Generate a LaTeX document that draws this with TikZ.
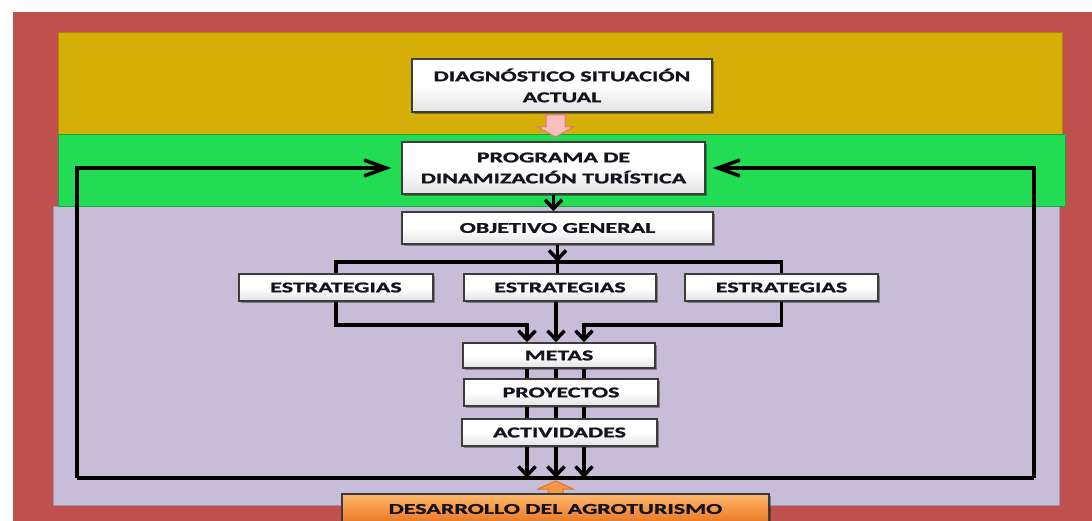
\documentclass[tikz,border=0pt]{standalone}
\usepackage{fontspec}
\setmainfont{Carlito}[FakeStretch=1.6, BoldFeatures={FakeBold=1.4}]
\usetikzlibrary{arrows.meta,shadows,calc}
\definecolor{redp}{RGB}{192,80,77}
\definecolor{goldp}{RGB}{213,174,7}
\definecolor{grnp}{RGB}{34,221,83}
\definecolor{lavp}{RGB}{199,189,216}
\definecolor{pinkp}{RGB}{248,190,190}
\definecolor{pinkd}{RGB}{222,120,120}
\definecolor{orgp}{RGB}{247,150,70}
\definecolor{orgl}{RGB}{251,185,110}
\definecolor{orgd}{RGB}{228,118,36}
\definecolor{boxline}{RGB}{60,60,60}
\definecolor{txt}{RGB}{20,20,30}
\begin{document}
\begin{tikzpicture}[x=1pt,y=-1pt,
  box/.style={draw=boxline, line width=1.5pt, top color=white, bottom color=gray!22,
    middle color=white, inner sep=0pt, align=center, text=txt,
    font=\bfseries\fontsize{15}{21}\selectfont,
    drop shadow={shadow xshift=2pt,shadow yshift=-2pt,opacity=0.35,fill=black}},
  obox/.style={box, top color=orgl, bottom color=orgd, middle color=orgp},
  conn/.style={line width=3.5pt, black},
  downarr/.style={conn, -{Straight Barb[length=9pt,width=17pt]}},
  looparr/.style={conn, -{Straight Barb[length=22pt,width=16pt]}},
  band/.style={line width=1pt}]
\useasboundingbox (0,0) rectangle (1092,521);
\fill[white] (0,0) rectangle (1092,521);
% panels
\fill[redp] (13,12) rectangle (1110,540);
\filldraw[band, fill=lavp, draw=lavp!80!black] (53,207) rectangle (1059,505);
\filldraw[band, fill=goldp, draw=goldp!80!black] (58,33) rectangle (1062,135);
\filldraw[band, fill=grnp, draw=grnp!75!black] (58,135) rectangle (1065,207);
% nodes
\node[box, minimum width=300pt, minimum height=53pt] (diag) at (562,85.5) {DIAGNÓSTICO SITUACIÓN\\ACTUAL};
\node[box, minimum width=303pt, minimum height=52pt] (prog) at (553.5,168) {PROGRAMA DE\\DINAMIZACIÓN TURÍSTICA};
\node[box, minimum width=311pt, minimum height=32pt] (obj) at (557.5,228) {OBJETIVO GENERAL};
\node[box, minimum width=194pt, minimum height=27pt] (e1) at (336,287.5) {ESTRATEGIAS};
\node[box, minimum width=192pt, minimum height=27pt] (e2) at (560,287.5) {ESTRATEGIAS};
\node[box, minimum width=193pt, minimum height=27pt] (e3) at (781.5,287.5) {ESTRATEGIAS};
\node[box, minimum width=192pt, minimum height=25pt] (metas) at (559,355.5) {METAS};
\node[box, minimum width=194pt, minimum height=27pt] (proy) at (561,392.5) {PROYECTOS};
\node[box, minimum width=195pt, minimum height=27pt] (act) at (559.5,432.5) {ACTIVIDADES};
% coordinates
\coordinate (bl) at (77,478);
\coordinate (br) at (1034,478);
\coordinate (c1) at (527,478);
\coordinate (c2) at (556,478);
\coordinate (c3) at (584,478);
\coordinate (sj) at (557.5,262);
\coordinate (j1) at (527,325);
\coordinate (j3) at (584,325);
% block arrows
\filldraw[fill=pinkp, draw=pinkd, line width=1pt] (546,115) -- (565,115) -- (565,127) -- (573,127) -- (555.5,137) -- (538,127) -- (546,127) -- cycle;
\filldraw[fill=orgp, draw=orgd, line width=1pt] (548,496) -- (548,489) -- (538,489) -- (555.5,481) -- (573,489) -- (563,489) -- (563,496);
\node[obox, minimum width=427pt, minimum height=30pt] (des) at (555.5,509) {DESARROLLO DEL AGROTURISMO};
% connectors
\draw[conn] (bl) -- (br);
\draw[looparr, shorten >=10pt] (bl) |- (prog.west);
\draw[looparr, shorten >=7pt] (br) |- (prog.east);
\draw[downarr] (prog.south) -- (prog.south |- obj.north);
\draw[downarr] (obj.south) -- (sj);
\draw[conn] (e1.north) |- (sj) -| (e3.north);
\draw[conn] (e2.north -| sj) -- (sj);
\draw[downarr] (e1.south) |- (j1) -- (j1 |- metas.north);
\draw[downarr] (e3.south) |- (j3) -- (j3 |- metas.north);
\draw[downarr] (e2.south -| c2) -- (c2 |- metas.north);
\foreach \c in {c1,c2,c3} {
  \draw[conn] (metas.south -| \c) -- (proy.north -| \c);
  \draw[conn] (proy.south -| \c) -- (act.north -| \c);
  \draw[downarr] (act.south -| \c) -- (\c);
}
\end{tikzpicture}
\end{document}
